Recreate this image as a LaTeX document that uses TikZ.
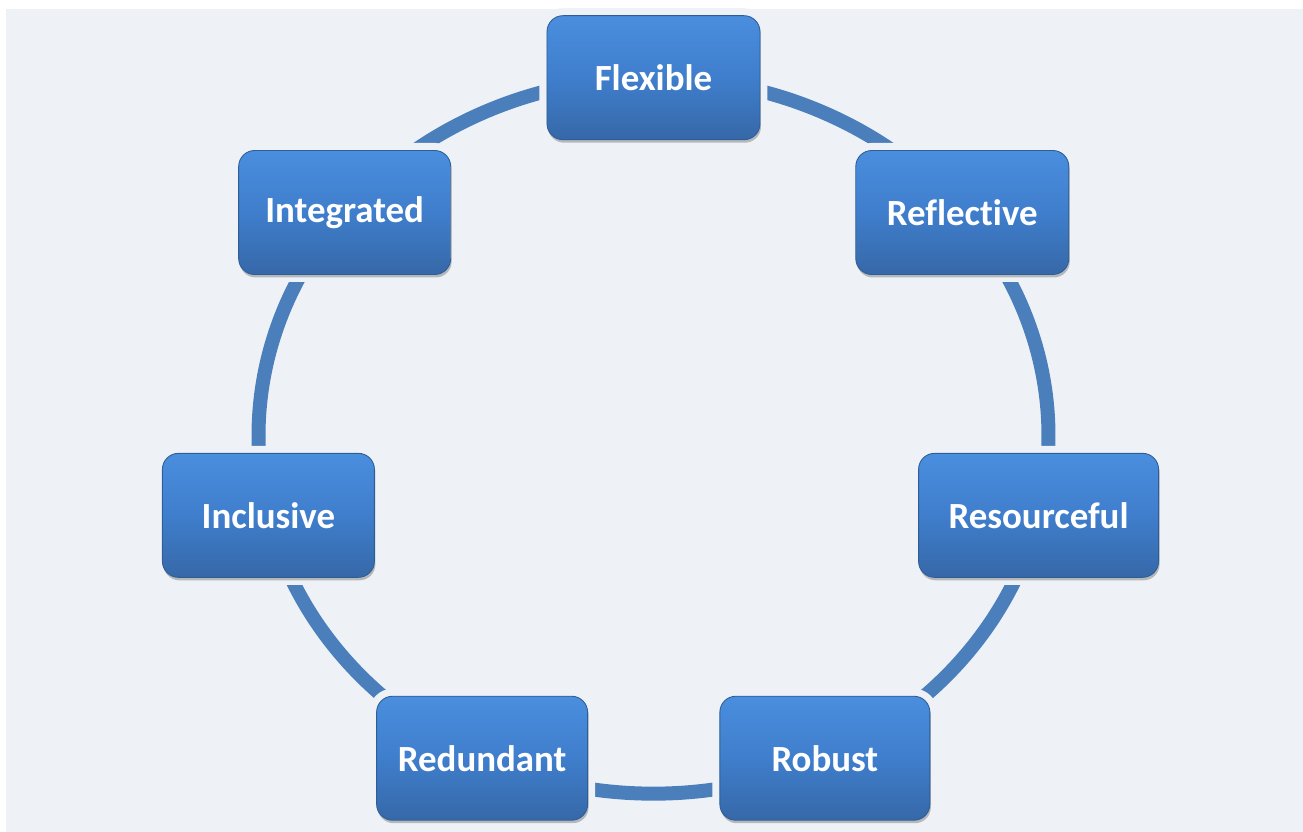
\documentclass[tikz,border=0pt]{standalone}
\usepackage{fontspec}
\setmainfont{Carlito}[Ligatures=NoCommon]
\usetikzlibrary{shadows}
\definecolor{bgcol}{HTML}{EEF2F7}
\definecolor{ringcol}{HTML}{4B7FBC}
\definecolor{boxtop}{HTML}{4A8EDE}
\definecolor{boxmid}{HTML}{3F7ECC}
\definecolor{boxbot}{HTML}{3668A8}
\definecolor{boxline}{HTML}{2F5E96}
\pgfdeclarelayer{back}
\pgfdeclarelayer{ringlayer}
\pgfsetlayers{back,ringlayer,main}
\def\rx{7.9}
\def\ry{7.16}
\def\kk{0.3043}
\begin{document}
\begin{tikzpicture}[
  box/.style={preaction={draw=bgcol, line width=0.3cm},
    drop shadow={shadow xshift=0.02cm, shadow yshift=-0.06cm, opacity=0.35, fill=black!70},
    rounded corners=0.32cm, draw=boxline, line width=0.5pt,
    top color=boxtop, bottom color=boxbot, middle color=boxmid,
    minimum height=2.48cm, text=white, font=\fontsize{21}{25}\selectfont\bfseries},
  ring/.style={ringcol, line width=0.28cm}]
\useasboundingbox (-13.07,-7.926) rectangle (12.99,8.714);
\begin{pgfonlayer}{back}
\fill[white] (-13.07,-7.926) rectangle (12.99,8.714);
\fill[bgcol] (-12.95,-7.926) rectangle (12.99,8.534);
\end{pgfonlayer}
\foreach \ang/\nm/\txt/\bw in {90/flex/Flexible/4.26, 38.571/refl/Reflective/4.26,
    -12.857/reso/Resourceful/4.8, -64.286/robu/Robust/4.2, -115.714/redu/Redundant/4.22,
    -167.143/incl/Inclusive/4.24, 141.429/inte/Integrated/4.24}
  \node[box, minimum width=\bw cm] (\nm) at (\ang:\rx cm and \ry cm) {\txt};
\begin{pgfonlayer}{ringlayer}
\foreach \p/\q/\ta in {flex/refl/90, refl/reso/38.571, reso/robu/-12.857, robu/redu/-64.286,
    redu/incl/-115.714, incl/inte/-167.143, inte/flex/141.429}
  \draw[ring] (\p.center) .. controls +({\kk*\rx*sin(\ta)},{-\kk*\ry*cos(\ta)})
    and +({-\kk*\rx*sin(\ta-51.4286)},{\kk*\ry*cos(\ta-51.4286)}) .. (\q.center);
\end{pgfonlayer}
\end{tikzpicture}
\end{document}
